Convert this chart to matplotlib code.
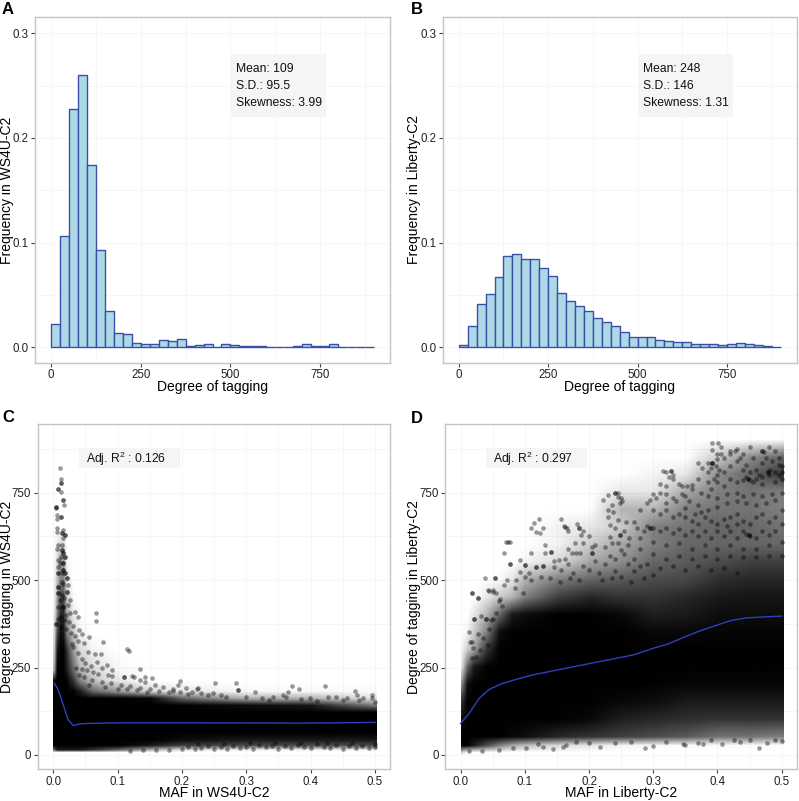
import matplotlib
matplotlib.use('Agg')
import matplotlib.pyplot as plt
from matplotlib.colors import LinearSegmentedColormap, Normalize
from matplotlib.image import NonUniformImage
from matplotlib.patches import Rectangle

plt.rcParams['font.family'] = ['Liberation Sans', 'DejaVu Sans']
plt.rcParams['mathtext.default'] = 'regular'

W, H = 799, 801

# ---- histograms, 25 wide bins from 0 to 900
bin_left = [25 * i for i in range(36)]
freq_ws4u = [.022, .1064, .228, .2605, .174, .0927, .0344, .0134, .0127, .0038, .0035, .0032,
             .0067, .0057, .0083, .0016, .002, .0027, .0007, .0027, .002, .0016, .0016, .0016,
             .0003, .0007, .0001, .0008, .0027, .001, .0008, .0027, .0002, .0002, .0002, .0001]
freq_liberty = [.0022, .02, .041, .0506, .0675, .0873, .0888, .0844, .0841, .0755, .0678, .0516,
                .044, .0395, .0344, .0277, .0239, .02, .015, .0102, .0102, .0102, .0067, .0057,
                .0048, .0048, .0029, .0029, .0029, .0022, .0029, .0038, .0029, .002, .001, .0003]

# ---- smooth lines
c_line_maf = [.0016, .0078, .0155, .0233, .031, .0415, .052, .098, .228, .383, .5]
c_line_tag = [205, 186, 143, 100, 84, 89, 90, 92, 92, 91, 93]
d_line_maf = [0, .0135, .029, .045, .066, .0865, .1125, .1646, .2167, .269, .30, .321, .347, .373, .399, .42, .446, .477, .5]
d_line_tag = [90, 119, 162, 188, 205, 216, 229, 248, 267, 286, 305, 316, 336, 355, 371, 384, 392, 395, 397]

# ---- overplotted clouds: how black the picture is at each node, read by eye
c_cloud_maf = [0, .005, .01, .015, .02, .03, .04, .06, .08, .1, .15, .2, .3, .4, .5015]
c_cloud_tag = [5, 12, 25, 40, 60, 120, 140, 160, 180, 210, 240, 300, 350, 400, 450, 500, 550, 600, 650]
c_cloud_dark = [
    [0, 0, 0, 0, 0, 0, 0, 0, 0, 0, 0, 0, 0, 0, 0],
    [.6, .9, .9, .9, .9, .9, .9, .8, .7, .6, .3, .1, .05, .05, .05],
    [1, 1, 1, 1, 1, 1, 1, 1, 1, 1, .9, .75, .7, .7, .7],
    [1, 1, 1, 1, 1, 1, 1, 1, 1, 1, 1, .95, .9, .9, .9],
    [1, 1, 1, 1, 1, 1, 1, 1, 1, 1, 1, 1, 1, 1, 1],
    [1, 1, 1, 1, 1, 1, 1, 1, 1, 1, 1, 1, 1, 1, 1],
    [1, 1, 1, 1, 1, 1, 1, 1, 1, 1, 1, 1, .95, .9, .5],
    [1, 1, 1, 1, 1, 1, 1, 1, 1, 1, .98, .6, .3, .3, .1],
    [1, 1, 1, 1, 1, 1, .9, .6, .5, .4, .15, .1, .03, .03, .02],
    [.95, 1, 1, 1, 1, .8, .5, .25, .15, .1, 0, 0, 0, 0, 0],
    [.3, 1, 1, 1, .9, .6, .3, .15, .1, .03, 0, 0, 0, 0, 0],
    [.15, .9, 1, 1, .8, .4, .15, .05, .02, 0, 0, 0, 0, 0, 0],
    [.1, .7, .95, .9, .5, .2, .05, 0, 0, 0, 0, 0, 0, 0, 0],
    [.05, .5, .85, .85, .35, .08, 0, 0, 0, 0, 0, 0, 0, 0, 0],
    [.03, .35, .7, .7, .2, .02, 0, 0, 0, 0, 0, 0, 0, 0, 0],
    [.02, .25, .5, .5, .1, 0, 0, 0, 0, 0, 0, 0, 0, 0, 0],
    [0, .15, .4, .4, .03, 0, 0, 0, 0, 0, 0, 0, 0, 0, 0],
    [0, .08, .15, .15, 0, 0, 0, 0, 0, 0, 0, 0, 0, 0, 0],
    [0, 0, 0, 0, 0, 0, 0, 0, 0, 0, 0, 0, 0, 0, 0],
]
d_cloud_maf = [0, .01, .02, .04, .06, .08, .1, .15, .2, .25, .3, .35, .4, .45, .5015]
d_cloud_tag = [5, 25, 50, 100, 150, 200, 250, 300, 350, 400, 450, 500, 550, 600, 650, 700, 750, 800, 850, 900]
d_cloud_dark = [
    [.2, 0, 0, 0, 0, 0, 0, 0, 0, 0, 0, 0, 0, 0, 0],
    [1, 1, .9, .7, .5, .35, .25, .15, .1, .05, .03, .03, .02, .02, .01],
    [1, 1, 1, 1, 1, .97, .95, .85, .8, .75, .7, .65, .55, .55, .5],
    [.95, 1, 1, 1, 1, 1, 1, 1, .97, .88, .85, .82, .8, .8, .8],
    [.8, 1, 1, 1, 1, 1, 1, 1, 1, .97, .95, .9, .9, .9, .9],
    [.4, .95, 1, 1, 1, 1, 1, 1, 1, 1, 1, .98, .98, .98, .98],
    [.05, .6, .9, 1, 1, 1, 1, 1, 1, 1, 1, 1, 1, 1, 1],
    [.02, .2, .35, .8, 1, 1, 1, 1, 1, 1, 1, 1, 1, 1, 1],
    [0, .05, .2, .5, .95, 1, 1, 1, 1, 1, .97, .97, .98, .98, .98],
    [0, 0, .1, .3, .6, .9, .95, 1, 1, .97, .88, .9, .95, .95, .95],
    [0, 0, 0, .1, .2, .3, .5, .75, .85, .8, .8, .85, .9, .92, .92],
    [0, 0, 0, 0, .02, .1, .3, .5, .6, .65, .7, .72, .82, .85, .85],
    [0, 0, 0, 0, 0, 0, .05, .15, .35, .45, .6, .65, .7, .75, .75],
    [0, 0, 0, 0, 0, 0, 0, .05, .2, .35, .5, .6, .6, .6, .6],
    [0, 0, 0, 0, 0, 0, 0, .05, .1, .2, .5, .55, .6, .6, .55],
    [0, 0, 0, 0, 0, 0, 0, 0, 0, .3, .3, .5, .55, .55, .5],
    [0, 0, 0, 0, 0, 0, 0, 0, 0, .1, .1, .35, .5, .55, .5],
    [0, 0, 0, 0, 0, 0, 0, 0, 0, 0, .05, .1, .45, .6, .8],
    [0, 0, 0, 0, 0, 0, 0, 0, 0, 0, 0, 0, .2, .45, .6],
    [0, 0, 0, 0, 0, 0, 0, 0, 0, 0, 0, 0, 0, 0, 0],
]

# ---- individual points around the saturated part
c_peak_points = [
    (.0104, 819), (.0114, 790), (.0114, 776), (.0114, 776), (.0078, 759), (.0078, 759), (.012, 752), (.0156, 730), (.0156, 730),
    (.0166, 714), (.004, 710), (.004, 710), (.004, 706), (.0114, 681), (.0114, 681), (.0052, 686), (.0052, 674), (.0052, 648),
    (.0062, 638), (.0145, 643), (.013, 633), (.013, 633), (.018, 629), (.018, 629), (.0156, 619), (.0068, 600), (.0062, 590),
    (.014, 600), (.013, 586), (.013, 586), (.0145, 576), (.0145, 576), (.018, 565), (.018, 565), (.0114, 567), (.0078, 557),
    (.0104, 548), (.0145, 548), (.0145, 548), (.0078, 538), (.0156, 529), (.0156, 529), (.0078, 521), (.0078, 521), (.013, 519),
    (.018, 519), (.018, 519), (.0207, 505), (.0207, 505), (.013, 495), (.0078, 481), (.0078, 481), (.0156, 490), (.0223, 486),
    (.0207, 467), (.0207, 467), (.0078, 462), (.0078, 462), (.013, 457), (.0166, 448), (.026, 443), (.0104, 443), (.0233, 429),
    (.0156, 424), (.0156, 424), (.0078, 424), (.026, 405), (.0337, 408), (.02, 400), (.012, 395), (.0078, 390), (.018, 385),
    (.004, 374), (.004, 374), (.0378, 395), (.025, 380), (.03, 370), (.012, 365), (.02, 360), (.0404, 357), (.028, 350),
    (.0441, 346), (.033, 340), (.056, 338), (.038, 325), (.048, 321), (.0767, 322), (.029, 318), (.039, 291), (.031, 310),
]
c_tail_points = [
    (.0663, 407), (.0663, 383), (.0544, 295), (.0648, 289), (.0736, 288), (.114, 303), (.117, 296), (.1347, 246), (.0684, 267),
    (.058, 253), (.083, 257), (.0752, 248), (.092, 243), (.044, 273), (.05, 262), (.052, 243), (.062, 238), (.07, 232), (.045, 245),
    (.0907, 227), (.0855, 229), (.11, 224), (.11, 224), (.122, 227), (.1254, 224), (.1425, 222), (.154, 219), (.1347, 214),
    (.197, 212), (.1943, 200), (.1865, 188), (.171, 195), (.1425, 210), (.158, 200), (.207, 191), (.2254, 191), (.06, 215),
    (.075, 210), (.09, 205), (.105, 200), (.12, 198), (.135, 192), (.15, 190), (.08, 195), (.1, 190), (.115, 188), (.13, 185),
    (.04, 230), (.035, 250), (.048, 222), (.055, 200), (.197, 180), (.165, 183), (.18, 180), (.145, 180), (.21, 175),
    (.251, 205), (.2845, 207), (.3715, 198), (.422, 197), (.2228, 188), (.2487, 176), (.2876, 186), (.2876, 186), (.3135, 181),
    (.382, 188), (.469, 184), (.496, 171), (.4725, 171), (.3575, 171), (.399, 162), (.4275, 167), (.23, 178), (.269, 167),
    (.342, 167), (.44, 167), (.456, 162), (.482, 162), (.4947, 162), (.1865, 183), (.215, 181), (.24, 170), (.26, 172),
    (.3, 165), (.325, 162), (.365, 180), (.362, 165), (.385, 160), (.41, 155), (.45, 158), (.475, 158), (.5, 150), (.335, 158),
]
c_low_points = [
    (.12, 12), (.14, 14), (.16, 14), (.18, 15), (.2, 18), (.21, 22), (.22, 16), (.23, 20), (.24, 25), (.25, 17), (.26, 22),
    (.27, 18), (.28, 27), (.29, 20), (.3, 24), (.31, 18), (.32, 28), (.33, 22), (.34, 25), (.35, 18), (.36, 27), (.37, 21),
    (.38, 28), (.39, 23), (.4, 19), (.41, 30), (.42, 24), (.43, 20), (.44, 28), (.45, 17), (.46, 25), (.47, 19), (.48, 26),
    (.49, 21), (.5, 24), (.5, 32), (.225, 30), (.265, 32), (.305, 33), (.345, 33), (.385, 33), (.425, 33), (.465, 33),
]
d_upper_points = [
    (.391, 892), (.401, 892), (.405, 880), (.392, 871), (.406, 860), (.399, 860), (.41, 850), (.40, 845), (.391, 835), (.391, 835),
    (.391, 835), (.385, 835), (.397, 825), (.39, 820), (.402, 815), (.37, 833), (.376, 820), (.385, 810), (.41, 810), (.40, 800),
    (.42, 825), (.42, 860), (.42, 870), (.43, 875), (.427, 868), (.44, 860), (.435, 850), (.43, 840), (.445, 830), (.45, 810),
    (.46, 815), (.45, 880), (.47, 868), (.472, 866), (.47, 868), (.455, 850), (.48, 880), (.49, 870), (.475, 850), (.47, 835),
    (.485, 840), (.495, 850), (.49, 810), (.48, 800), (.47, 795), (.495, 800), (.5, 810), (.5, 790), (.49, 780), (.47, 775),
    (.455, 780), (.44, 785), (.445, 795), (.43, 780), (.42, 790), (.41, 770), (.40, 780), (.39, 760), (.37, 790), (.36, 760),
    (.375, 750), (.385, 740), (.40, 735), (.415, 745), (.43, 750), (.44, 740), (.455, 745), (.47, 740), (.485, 745), (.5, 750),
    (.49, 730), (.475, 720), (.46, 715), (.445, 720), (.43, 725), (.415, 720), (.40, 710), (.385, 700), (.37, 715), (.355, 725),
    (.345, 745), (.35, 705), (.32, 810), (.315, 812), (.328, 812), (.328, 812), (.325, 795), (.33, 790), (.33, 800), (.31, 775),
    (.32, 770), (.34, 775), (.345, 770), (.352, 770), (.36, 772), (.33, 735), (.335, 725), (.32, 720), (.305, 735), (.31, 750),
    (.30, 745), (.32, 745), (.295, 730), (.29, 720), (.28, 700), (.30, 700), (.31, 690), (.32, 700), (.33, 680), (.34, 690),
    (.35, 680), (.36, 670), (.37, 660), (.38, 680), (.39, 670), (.40, 660), (.41, 675), (.42, 680), (.43, 690), (.44, 670),
    (.45, 660), (.46, 680), (.47, 690), (.48, 665), (.49, 680), (.5, 700), (.5, 660), (.49, 640), (.48, 630), (.47, 640),
    (.46, 620), (.445, 632), (.45, 625), (.449, 628), (.449, 628), (.44, 640), (.43, 620), (.42, 640), (.41, 625), (.40, 640),
    (.39, 620), (.38, 640), (.37, 625), (.36, 640), (.35, 630), (.34, 645), (.33, 635), (.32, 650), (.31, 640), (.30, 650),
    (.295, 648), (.295, 648), (.29, 655), (.285, 640), (.275, 650), (.27, 665), (.262, 620), (.28, 620), (.30, 610), (.32, 600),
    (.34, 605), (.36, 590), (.38, 600), (.40, 590), (.42, 600), (.44, 590), (.46, 590), (.48, 600), (.5, 610), (.5, 570),
    (.48, 570), (.46, 565), (.44, 565), (.42, 570), (.40, 560), (.38, 570), (.36, 560), (.34, 570), (.32, 560), (.30, 575),
    (.28, 590), (.26, 600), (.25, 585), (.27, 560), (.29, 545), (.31, 535), (.33, 540), (.35, 530), (.37, 540), (.39, 530),
    (.41, 535), (.43, 520), (.478, 810), (.478, 810), (.482, 815), (.447, 790), (.447, 790), (.45, 785), (.495, 830), (.5, 825),
    (.465, 800), (.46, 790), (.44, 815), (.385, 780), (.395, 790), (.35, 740), (.365, 690), (.375, 695), (.43, 660), (.415, 655),
]
d_left_points = [
    (.071, 608), (.074, 608), (.077, 608), (.068, 576), (.077, 546), (.077, 546), (.0386, 505), (.054, 507), (.054, 507), (.018, 464), (.018, 464),
    (.0266, 448), (.0266, 448), (.05, 472), (.045, 468), (.115, 662), (.122, 674), (.109, 650), (.128, 648), (.118, 638), (.124, 633), (.156, 674),
    (.163, 652), (.165, 648), (.161, 655), (.167, 640), (.185, 648), (.185, 648), (.19, 640), (.182, 659), (.188, 629), (.20, 626), (.178, 605),
    (.19, 605), (.131, 600), (.141, 581), (.141, 581), (.132, 576), (.109, 576), (.093, 557), (.167, 590), (.18, 576), (.186, 576), (.173, 576),
    (.146, 555), (.154, 557), (.163, 560), (.204, 595), (.21, 600), (.204, 576), (.204, 576), (.225, 595), (.233, 569), (.24, 748), (.24, 748),
    (.245, 748), (.245, 738), (.25, 735), (.248, 719), (.252, 725), (.235, 714), (.222, 729), (.23, 743), (.23, 700), (.238, 695), (.23, 679),
    (.245, 671), (.232, 657), (.24, 648), (.248, 629), (.248, 629), (.232, 624), (.235, 605), (.245, 605), (.255, 640), (.258, 665),
    (.1, 543), (.1, 543), (.092, 524), (.107, 519), (.118, 538), (.118, 538), (.128, 540), (.128, 540), (.146, 538), (.157, 529), (.167, 545),
    (.175, 519), (.086, 500), (.1, 510), (.073, 500), (.042, 472), (.05, 467), (.055, 462), (.068, 486), (.084, 476), (.097, 462), (.11, 500),
    (.125, 510), (.14, 505), (.155, 495), (.17, 505), (.185, 500), (.19, 540), (.2, 530), (.21, 555), (.215, 520), (.225, 545), (.24, 560),
    (.24, 525), (.255, 575), (.26, 545), (.27, 525), (.28, 540), (.22, 500), (.235, 505), (.25, 510), (.265, 495), (.285, 505), (.3, 515),
    (.0125, 352), (.015, 324), (.018, 324), (.027, 345), (.021, 390), (.021, 390), (.032, 397), (.04, 389), (.04, 389), (.042, 314), (.02, 305),
    (.018, 278), (.045, 359), (.055, 405), (.05, 390), (.06, 440), (.065, 425), (.035, 335), (.03, 300), (.047, 385), (.062, 445), (.024, 280),
]
d_low_points = [
    (.287, 19), (.30, 26), (.347, 30), (.35, 28), (.37, 35), (.378, 32), (.407, 30), (.435, 38), (.464, 21), (.477, 33), (.5, 40), (.49, 42),
    (.425, 42), (.2167, 24), (.2, 33), (.164, 28), (.144, 17), (.159, 24), (.128, 24), (.102, 20), (.081, 19), (.06, 15), (.034, 12), (.0135, 12),
    (.12, 30), (.18, 36), (.24, 34), (.265, 38), (.32, 38), (.39, 42), (.45, 44),
]

deg_ticks = [0, 250, 500, 750]
freq_ticks = [0.0, 0.1, 0.2, 0.3]
maf_ticks = [0.0, 0.1, 0.2, 0.3, 0.4, 0.5]

clear_to_black = LinearSegmentedColormap.from_list('clear_to_black', [(0, 0, 0, 0), (0, 0, 0, 1)])


def make_axes(left, right, top, bottom):
    ax = fig.add_axes([left / W, 1 - bottom / H, (right - left) / W, (bottom - top) / H])
    for side in ax.spines.values():
        side.set_color('#c4c4c4')
        side.set_linewidth(1.0)
    ax.set_axisbelow(True)
    ax.grid(True, which='both', color='#f6f6f6', linewidth=0.7)
    ax.tick_params(which='major', length=2.6, width=0.8, color='#444444', labelsize=8.3, pad=2, labelcolor='#222222')
    ax.tick_params(which='minor', length=0)
    return ax


def hist_panel(ax, freq, xlabel, ylabel, stats, label_x):
    ax.bar(bin_left, freq, width=25, align='edge', color='#add8e6', edgecolor='#3a4fa8', linewidth=1.0)
    ax.set_xlim(-45, 945)
    ax.set_ylim(-0.0147, 0.3152)
    ax.set_xticks(deg_ticks)
    ax.set_xticks([125, 375, 625, 875], minor=True)
    ax.set_yticks(freq_ticks)
    ax.set_yticklabels(['0.0', '0.1', '0.2', '0.3'])
    ax.set_yticks([0.05, 0.15, 0.25], minor=True)
    ax.add_patch(Rectangle((501, 0.2202), 265, 0.0598, facecolor='#f5f5f5', edgecolor='none', zorder=3))
    for text_y, line in zip([0.266, 0.2496, 0.233], stats):
        ax.text(516, text_y, line, fontsize=8.7, color='#111111', va='center', zorder=4)
    ax.set_xlabel(xlabel, fontsize=10, va='center')
    ax.xaxis.set_label_coords(0.5, -0.069)
    ax.set_ylabel(ylabel, fontsize=10, va='center')
    ax.yaxis.set_label_coords(label_x, 0.5)


def scatter_panel(ax, maf, tag, dark, xlabel, ylabel, r2, label_x):
    ax.set_xlim(-0.0242, 0.5233)
    ax.set_ylim(-40.9, 945)
    # soft underlay for the part where the points have merged
    cloud = NonUniformImage(ax, interpolation='bilinear', cmap=clear_to_black, norm=Normalize(0, 1), zorder=1.5)
    cloud.set_data(maf, tag, dark)
    ax.add_image(cloud)
    cloud.set_clip_path(Rectangle((maf[0], tag[0]), maf[-1] - maf[0], tag[-1] - tag[0], transform=ax.transData))
    ax.set_xlim(-0.0242, 0.5233)
    ax.set_ylim(-40.9, 945)
    ax.set_xticks(maf_ticks)
    ax.set_xticklabels(['0.0', '0.1', '0.2', '0.3', '0.4', '0.5'])
    ax.set_xticks([.05, .15, .25, .35, .45], minor=True)
    ax.set_yticks(deg_ticks)
    ax.set_yticks([125, 375, 625, 875], minor=True)
    ax.add_patch(Rectangle((0.0404, 821), 0.1566, 55, facecolor='#f5f5f5', edgecolor='none', zorder=3))
    ax.text(0.0508, 845, 'Adj. R$^2$ : ' + r2, fontsize=8.7, color='#111111', va='center', zorder=4)
    ax.set_xlabel(xlabel, fontsize=10, va='center')
    ax.xaxis.set_label_coords(0.5, -0.069)
    ax.set_ylabel(ylabel, fontsize=10, va='center')
    ax.yaxis.set_label_coords(label_x, 0.5)


def draw_points(ax, points):
    maf, tag = zip(*points)
    ax.scatter(maf, tag, s=11, c='black', alpha=0.4, linewidths=0, zorder=2)


fig = plt.figure(figsize=(W / 100, H / 100), dpi=100)

ax_a = make_axes(35, 390, 17.3, 362.7)
hist_panel(ax_a, freq_ws4u, 'Degree of tagging', 'Frequency in WS4U-C2',
           ['Mean: 109', 'S.D.: 95.5', 'Skewness: 3.99'], -0.079)

ax_b = make_axes(442.7, 796.7, 17.3, 362.7)
hist_panel(ax_b, freq_liberty, 'Degree of tagging', 'Frequency in Liberty-C2',
           ['Mean: 248', 'S.D.: 146', 'Skewness: 1.31'], -0.08)

ax_c = make_axes(37.7, 390, 424.3, 769.3)
scatter_panel(ax_c, c_cloud_maf, c_cloud_tag, c_cloud_dark, 'MAF in WS4U-C2', 'Degree of tagging in WS4U-C2', '0.126', -0.087)
draw_points(ax_c, c_peak_points)
draw_points(ax_c, c_tail_points)
draw_points(ax_c, c_low_points)
ax_c.plot(c_line_maf, c_line_tag, color='#2f3fbf', linewidth=1.0, zorder=2.5)

ax_d = make_axes(445, 796.7, 424.3, 769.3)
scatter_panel(ax_d, d_cloud_maf, d_cloud_tag, d_cloud_dark, 'MAF in Liberty-C2', 'Degree of tagging in Liberty-C2', '0.297', -0.087)
draw_points(ax_d, d_upper_points)
draw_points(ax_d, d_left_points)
draw_points(ax_d, d_low_points)
ax_d.plot(d_line_maf, d_line_tag, color='#2f3fbf', linewidth=1.0, zorder=2.5)

for letter, px, py in [('A', 2, 9), ('B', 411, 9), ('C', 2, 417), ('D', 411, 418)]:
    fig.text(px / W, 1 - py / H, letter, fontsize=12, fontweight='bold', va='center', ha='left')

plt.savefig('out.png', dpi=100)
plt.close(fig)
